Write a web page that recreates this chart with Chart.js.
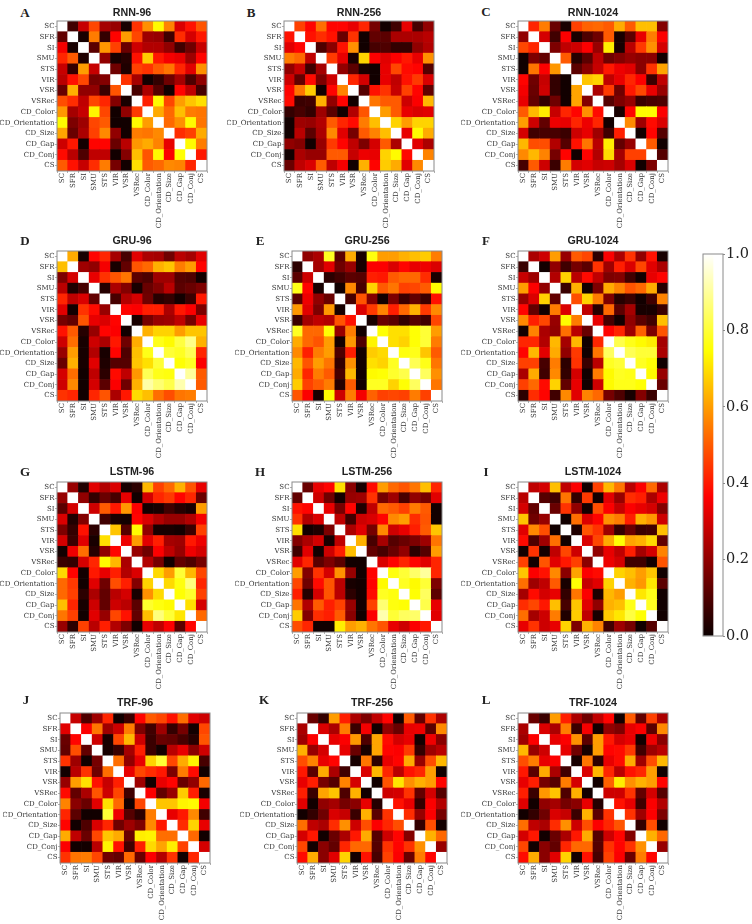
<!DOCTYPE html>
<html><head><meta charset="utf-8">
<style>
html,body{margin:0;padding:0;background:#fff;width:752px;height:924px;overflow:hidden}
canvas{position:absolute}
.letter{position:absolute;font:bold 13px "Liberation Serif",serif;color:#222;transform:translate(-50%,-50%)}
</style>
<script src="https://cdn.jsdelivr.net/npm/chart.js@4"></script>
</head><body>
<script>
const labels=["SC","SFR","SI","SMU","STS","VIR","VSR","VSRec","CD_Color","CD_Orientation","CD_Size","CD_Gap","CD_Conj","CS"];
const colorbarTicks=[0,0.2,0.4,0.6,0.8,1];
// correlation values in percent, row by row
const RNN_96=[
[100,8,28,47,23,21,2,44,58,74,56,31,39,49],
[13,100,2,55,6,37,60,47,22,21,8,43,30,40],
[35,2,100,12,59,46,14,29,25,25,20,8,15,28],
[42,50,3,100,20,2,4,39,67,40,35,33,22,37],
[28,6,60,28,100,15,3,46,44,50,54,42,32,58],
[26,39,47,16,18,100,44,23,1,6,15,23,10,20],
[14,63,20,20,7,49,100,9,24,11,1,37,27,9],
[48,43,27,47,42,18,2,100,41,74,47,60,66,70],
[59,23,28,73,47,1,20,45,100,62,52,65,55,54],
[74,17,22,47,50,1,1,74,60,100,52,58,74,54],
[61,14,24,46,57,20,1,55,54,57,100,43,46,62],
[29,40,1,37,37,14,26,59,62,56,33,100,74,55],
[38,26,10,27,27,1,18,65,49,74,36,75,100,40],
[50,39,28,43,55,16,1,70,50,52,57,56,42,100]];
const RNN_256=[
[100,46,37,53,37,37,33,42,16,1,8,33,9,20],
[39,100,39,43,39,14,44,1,13,12,24,24,24,26],
[32,37,100,10,19,39,58,1,9,10,6,6,20,25],
[55,52,27,100,45,33,2,68,36,32,36,40,33,58],
[20,28,8,23,100,20,12,2,1,33,47,38,37,11],
[29,13,38,17,29,100,42,30,1,33,27,39,45,31],
[37,54,67,1,37,56,100,11,39,44,28,46,37,13],
[38,7,8,63,20,37,1,100,54,50,50,29,36,64],
[6,9,6,22,12,1,25,49,100,60,50,33,31,32],
[1,22,21,25,50,42,38,55,65,100,68,60,68,68],
[1,26,12,24,57,32,16,50,56,65,100,33,74,62],
[20,18,1,21,45,37,27,17,30,50,24,100,32,24],
[1,24,21,21,50,50,28,34,33,68,74,38,100,56],
[14,27,31,50,27,35,1,63,37,67,62,32,57,100]];
const RNN_1024=[
[100,42,55,14,2,46,51,52,50,62,50,65,65,18],
[20,100,30,8,36,2,10,15,50,2,12,33,55,36],
[47,42,100,17,27,29,36,21,72,2,26,45,58,30],
[1,17,13,100,50,4,12,27,15,18,21,19,19,1],
[1,54,36,59,100,12,19,28,40,34,32,19,44,61],
[37,15,28,6,1,100,66,68,27,33,42,36,7,27],
[35,14,29,6,1,61,100,24,45,15,40,47,33,21],
[33,13,6,15,1,61,18,100,11,17,21,7,9,10],
[50,64,72,28,42,37,58,38,100,2,37,74,74,36],
[60,29,13,34,33,42,34,42,1,100,57,22,38,31],
[30,8,9,9,7,29,33,22,8,41,100,1,37,11],
[64,48,48,25,11,39,54,26,72,13,21,100,50,1],
[57,64,56,16,37,1,37,25,69,23,46,46,100,11],
[9,50,29,7,55,30,32,28,29,23,31,1,17,100]];
const GRU_96=[
[100,62,2,37,42,23,9,32,24,23,15,26,23,32],
[65,100,22,20,35,2,13,49,52,63,66,55,60,37],
[17,30,100,33,44,49,54,12,10,22,22,11,10,1],
[26,3,9,100,4,24,18,2,14,18,26,12,14,17],
[42,27,31,13,100,9,25,30,15,4,6,1,7,40],
[32,1,44,38,21,100,37,36,41,41,24,40,36,17],
[16,13,49,33,31,37,100,2,16,21,22,27,16,33],
[39,50,4,21,37,36,1,100,63,68,68,60,66,66],
[29,53,2,29,24,40,15,62,100,77,74,81,88,63],
[21,60,2,25,2,37,10,65,77,100,80,78,83,42],
[14,63,2,32,3,11,11,66,70,80,100,75,78,36],
[30,53,1,27,5,38,27,59,83,77,76,100,90,50],
[29,57,1,30,12,36,15,63,91,86,82,92,100,50],
[44,42,1,42,49,24,40,69,65,53,48,54,55,100]];
const GRU_256=[
[100,20,24,78,12,62,2,76,60,60,63,65,67,55],
[5,100,23,32,15,21,2,36,36,31,37,33,34,31],
[12,29,100,5,8,12,11,41,40,50,52,52,43,2],
[77,37,2,100,1,57,9,68,50,54,46,47,50,74],
[12,34,20,14,100,9,49,18,1,17,7,13,7,39],
[59,32,17,59,2,100,31,45,56,41,52,63,45,57],
[7,23,27,25,49,39,100,2,14,12,6,11,8,47],
[78,52,52,75,21,55,1,100,75,70,70,75,80,60],
[62,52,49,60,1,59,10,73,100,70,68,75,80,55],
[57,41,55,60,10,41,1,67,69,100,76,77,66,50],
[64,49,60,54,6,58,1,70,68,78,100,83,77,54],
[62,42,55,50,9,64,1,74,75,79,82,100,84,58],
[67,46,50,55,4,50,1,78,78,68,75,84,100,54],
[49,36,2,74,29,55,35,51,46,47,46,55,46,100]];
const GRU_1024=[
[100,24,29,60,21,50,47,5,36,24,44,20,39,2],
[7,100,1,20,8,16,12,44,22,41,31,47,32,24],
[28,22,100,25,68,26,38,27,17,18,8,1,33,37],
[60,36,20,100,7,63,1,17,62,56,49,52,62,4],
[21,31,68,13,100,48,68,55,17,4,7,1,8,56],
[37,13,1,55,31,100,27,4,52,12,23,2,2,7],
[57,41,47,21,74,55,100,33,9,1,20,12,8,65],
[1,56,24,20,53,26,14,100,37,42,22,51,17,49],
[42,42,25,64,23,64,1,42,100,82,77,74,72,23],
[37,64,32,62,20,45,1,54,84,100,83,80,80,24],
[46,46,9,55,5,44,7,26,78,80,100,78,75,1],
[24,62,8,57,6,30,1,55,74,78,77,100,74,21],
[46,52,38,68,13,33,1,29,74,77,77,75,100,14],
[5,43,37,8,57,32,56,52,16,10,2,18,7,100]];
const LSTM_96=[
[100,21,3,32,25,31,2,5,64,46,52,63,49,33],
[21,100,20,6,14,9,33,1,30,42,45,37,42,14],
[12,30,100,29,50,40,59,36,1,2,8,4,2,60],
[31,3,18,100,8,2,1,37,31,25,21,21,25,35],
[17,6,39,5,100,66,11,74,20,2,2,1,7,46],
[30,7,32,2,70,100,34,60,32,41,23,22,40,34],
[1,34,53,4,20,37,100,21,15,36,27,21,34,30],
[7,6,30,42,74,64,24,100,25,16,1,13,10,16],
[69,37,1,40,33,41,25,31,100,69,60,80,64,47],
[52,45,1,32,15,48,41,18,68,100,69,76,87,42],
[52,46,5,24,13,26,30,2,58,69,100,75,79,46],
[65,42,2,29,13,29,26,12,79,76,74,100,70,30],
[54,46,1,32,21,47,39,13,65,87,80,71,100,52],
[21,5,46,26,41,25,17,1,33,27,36,12,37,100]];
const LSTM_256=[
[100,14,33,37,70,19,2,38,60,52,49,54,65,42],
[13,100,29,15,1,21,22,44,16,22,9,20,16,32],
[39,37,100,33,16,37,3,27,52,50,46,55,50,1],
[44,25,31,100,27,8,29,31,37,57,60,43,49,1],
[70,1,3,17,100,24,32,16,57,29,33,41,50,66],
[18,24,30,2,27,100,63,9,23,11,14,17,22,54],
[8,32,1,29,41,65,100,13,9,14,20,5,11,60],
[32,42,12,17,12,1,1,100,31,37,42,37,32,42],
[60,18,44,30,58,21,1,37,100,76,80,85,90,42],
[47,15,38,49,26,2,1,37,74,100,78,74,80,17],
[41,4,30,49,26,5,1,38,78,76,100,75,84,12],
[54,25,50,41,46,21,1,46,86,76,75,100,82,33],
[67,18,43,41,50,19,1,36,92,80,84,85,100,32],
[48,42,1,1,72,60,63,54,49,33,29,36,40,100]];
const LSTM_1024=[
[100,27,30,65,27,36,1,46,64,54,26,36,52,24],
[26,100,11,8,54,6,45,1,32,21,43,41,24,34],
[30,13,100,14,44,20,1,48,36,28,36,33,30,18],
[66,15,21,100,1,53,31,37,58,55,41,63,59,29],
[32,57,48,1,100,3,49,44,22,6,14,7,8,65],
[38,10,22,53,1,100,31,47,62,75,61,63,69,13],
[1,44,1,27,47,29,100,20,33,27,41,23,30,56],
[46,1,49,32,40,46,19,100,34,30,8,8,1,49],
[66,36,39,57,19,61,36,38,100,68,65,60,66,1],
[53,22,27,50,2,75,28,32,68,100,63,59,71,12],
[23,38,30,33,6,54,36,3,64,60,100,71,77,1],
[43,47,40,65,9,66,32,20,63,65,77,100,78,1],
[53,23,29,55,3,67,27,2,67,71,81,75,100,1],
[33,44,29,33,68,17,63,56,8,22,16,1,11,100]];
const TRF_96=[
[100,28,10,22,42,1,7,37,50,47,39,53,32,29],
[32,100,36,54,22,29,55,17,8,22,6,16,1,47],
[14,37,100,29,2,47,64,29,7,14,13,9,4,49],
[13,48,13,100,2,7,23,41,7,1,26,33,19,29],
[44,22,1,16,100,53,20,33,68,80,47,62,73,9],
[1,26,44,15,53,100,33,47,43,40,17,55,38,1],
[21,60,70,39,28,41,100,22,1,33,37,14,20,52],
[38,13,24,49,29,47,8,100,36,13,21,67,41,2],
[56,19,14,32,70,52,1,47,100,66,66,73,74,35],
[42,12,1,1,80,34,11,5,55,100,33,40,57,8],
[37,1,10,31,42,15,22,17,57,40,100,43,68,33],
[62,27,14,47,66,62,14,72,73,53,53,100,52,1],
[36,1,1,26,73,39,8,41,69,61,72,46,100,30],
[44,54,55,47,15,13,52,14,36,25,44,1,42,100]];
const TRF_256=[
[100,14,6,60,41,24,17,27,37,1,50,13,44,24],
[24,100,31,24,55,7,35,1,20,14,33,34,12,57],
[22,36,100,33,36,59,10,61,38,30,33,1,34,19],
[63,21,30,100,33,14,2,61,37,36,45,6,22,26],
[48,56,33,37,100,2,54,5,33,37,62,21,48,64],
[40,12,62,24,8,100,31,64,42,26,39,42,60,1],
[33,41,16,11,56,30,100,1,49,71,58,63,60,37],
[41,7,61,66,10,63,1,100,29,30,44,13,30,11],
[32,1,20,23,16,19,33,4,100,39,33,6,36,25],
[1,6,15,31,28,7,63,12,44,100,43,21,36,16],
[53,27,24,43,58,29,48,36,42,48,100,6,48,1],
[30,40,1,14,24,40,62,11,29,37,18,100,63,52],
[47,1,19,13,42,52,52,11,44,37,44,58,100,21],
[38,62,19,32,68,1,39,9,46,36,14,55,37,100]];
const TRF_1024=[
[100,14,7,60,41,24,15,27,37,1,50,13,46,24],
[24,100,31,24,55,7,35,1,20,17,33,36,12,57],
[22,36,100,33,36,58,12,60,40,30,33,1,34,19],
[64,21,29,100,33,15,2,60,37,38,45,8,22,26],
[48,55,33,36,100,2,54,5,33,38,62,22,48,64],
[40,12,62,24,8,100,31,64,42,26,39,42,60,1],
[33,41,16,11,55,30,100,1,51,72,58,63,60,37],
[41,7,59,66,10,63,1,100,29,29,44,13,30,11],
[32,1,20,23,16,19,33,4,100,39,33,8,36,25],
[1,6,15,31,28,7,63,12,44,100,44,22,36,17],
[53,27,24,43,58,29,48,36,42,49,100,6,48,1],
[30,40,1,14,24,40,62,11,29,37,18,100,63,52],
[47,1,19,13,42,52,52,11,44,37,44,58,100,21],
[38,62,19,32,68,1,39,9,46,36,14,55,37,100]];

const panels=[
 {letter:"A",title:"RNN-96",m:RNN_96,x:57,y:21,gap:8,lx:25,ly:13},
 {letter:"B",title:"RNN-256",m:RNN_256,x:284,y:21,gap:8,lx:251,ly:13},
 {letter:"C",title:"RNN-1024",m:RNN_1024,x:518,y:21,gap:8,lx:486,ly:12},
 {letter:"D",title:"GRU-96",m:GRU_96,x:57,y:251,gap:10,lx:25,ly:241},
 {letter:"E",title:"GRU-256",m:GRU_256,x:292,y:251,gap:10,lx:260,ly:241},
 {letter:"F",title:"GRU-1024",m:GRU_1024,x:518,y:251,gap:10,lx:486,ly:241},
 {letter:"G",title:"LSTM-96",m:LSTM_96,x:57,y:482,gap:10,lx:25,ly:472},
 {letter:"H",title:"LSTM-256",m:LSTM_256,x:292,y:482,gap:10,lx:260,ly:472},
 {letter:"I",title:"LSTM-1024",m:LSTM_1024,x:518,y:482,gap:10,lx:486,ly:472},
 {letter:"J",title:"TRF-96",m:TRF_96,x:60,y:713,gap:10,lx:26,ly:700},
 {letter:"K",title:"TRF-256",m:TRF_256,x:297,y:713,gap:10,lx:264,ly:700},
 {letter:"L",title:"TRF-1024",m:TRF_1024,x:518,y:713,gap:10,lx:486,ly:700}
];
const hotStops=[[0,[11,0,0]],[0.365,[255,0,0]],[0.746,[255,255,0]],[1,[255,255,255]]];
function hot(v){
 for(let i=1;i<hotStops.length;i++){
  if(v<=hotStops[i][0]){
   const a=hotStops[i-1],b=hotStops[i],t=(v-a[0])/(b[0]-a[0]);
   const c=a[1].map((q,k)=>Math.round(q+(b[1][k]-q)*t));
   return `rgb(${c[0]},${c[1]},${c[2]})`;
  }
 }
 return '#fff';
}
const AXIS_W=57,CELLS=150,X_H=70,TOP=21,RIGHT=8,FRAME='#8a8a8a',TICK='#b0b0b0';
const framePlugin={id:'frame',afterDatasetsDraw(chart){
 const {ctx,chartArea:a}=chart;ctx.save();ctx.strokeStyle=FRAME;ctx.lineWidth=1;
 ctx.strokeRect(a.left,a.top,a.right-a.left,a.bottom-a.top);ctx.restore();}};
function addCanvas(left,top,w,h){
 const c=document.createElement('canvas');c.width=w;c.height=h;
 c.style.cssText=`left:${left}px;top:${top}px;width:${w}px;height:${h}px`;
 document.body.appendChild(c);return c;
}
Chart.defaults.animation=false;
const tickFont={family:'"DejaVu Serif",serif',size:7};
panels.forEach(p=>{
 const d=document.createElement('div');d.className='letter';d.textContent=p.letter;
 d.style.left=p.lx+'px';d.style.top=p.ly+'px';document.body.appendChild(d);
 const canvas=addCanvas(p.x-AXIS_W,p.y-TOP,AXIS_W+CELLS+RIGHT,TOP+CELLS+X_H);
 const datasets=p.m.slice().reverse().map(row=>({
  data:labels.map((l,j)=>({x:l,y:1,v:row[j]/100})),
  backgroundColor:c=>hot(c.raw.v),borderWidth:0,barPercentage:1,categoryPercentage:1
 }));
 const titleH=12;
 new Chart(canvas,{type:'bar',data:{labels,datasets},plugins:[framePlugin],options:{
  responsive:false,
  layout:{padding:{left:0,right:RIGHT,top:TOP-titleH-(p.gap-6),bottom:0}},
  plugins:{legend:{display:false},tooltip:{enabled:false},
   title:{display:true,fullSize:false,text:p.title,color:'#222',padding:{top:0,bottom:p.gap-6},
    font:{family:'"Liberation Sans",Arial,sans-serif',weight:'bold',size:10.7,lineHeight:'12px'}}},
  scales:{
   x:{stacked:true,offset:true,
    grid:{display:true,drawOnChartArea:false,tickLength:2,tickColor:TICK},border:{display:false},
    ticks:{autoSkip:false,minRotation:90,maxRotation:90,padding:0,color:'#333',font:tickFont},
    afterFit(s){s.height=X_H;}},
   y:{stacked:true,min:0,max:14,
    afterBuildTicks(s){s.ticks=labels.map((l,i)=>({value:13.5-i}));},
    grid:{display:true,drawOnChartArea:false,tickLength:2,tickColor:TICK},border:{display:false},
    ticks:{autoSkip:false,padding:0.5,color:'#333',font:tickFont,callback:v=>labels[13.5-v]},
    afterFit(s){s.width=AXIS_W;}}
  }}});
});
// colour bar
const barCanvas=addCanvas(695,234,57,422);
new Chart(barCanvas,{type:'bar',data:{labels:['v'],datasets:[{data:[1],barPercentage:1,categoryPercentage:1,borderWidth:0,
  backgroundColor(c){
   const a=c.chart.chartArea;if(!a)return '#000';
   const g=c.chart.ctx.createLinearGradient(0,a.bottom,0,a.top);
   hotStops.forEach(s=>g.addColorStop(s[0],`rgb(${s[1].join(',')})`));return g;}}]},
 plugins:[framePlugin],
 options:{responsive:false,
  layout:{padding:{left:8,right:0,top:20,bottom:20}},
  plugins:{legend:{display:false},tooltip:{enabled:false}},
  scales:{
   x:{display:false,offset:false},
   y:{position:'right',min:0,max:1,
    afterBuildTicks(s){s.ticks=colorbarTicks.map(v=>({value:v}));},
    grid:{display:true,drawOnChartArea:false,tickLength:2,tickColor:FRAME},border:{display:false},
    ticks:{padding:1,color:'#222',font:{family:'"DejaVu Serif",serif',size:14.5},callback:v=>v.toFixed(1)},
    afterFit(s){s.width=29;}}
  }}});
</script>
</body></html>
